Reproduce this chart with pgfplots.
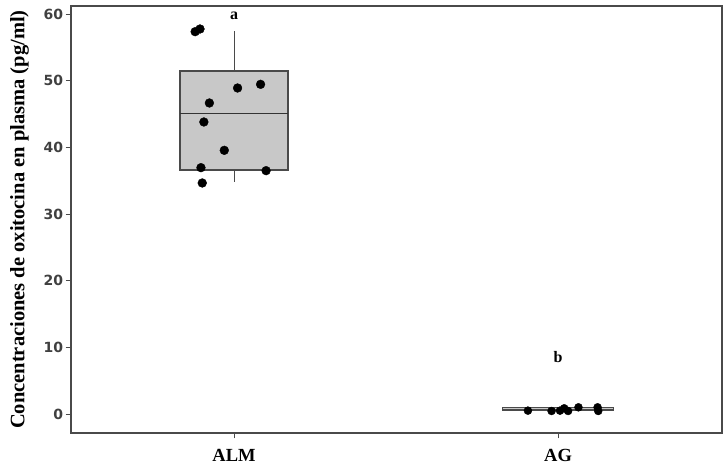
\documentclass[border=0pt]{standalone}
\usepackage{pgfplots}
\pgfplotsset{compat=1.18}
\usepackage{fontspec}
\setmainfont{Liberation Serif}
\newfontfamily\tickfont{DejaVu Sans}
\definecolor{framegray}{HTML}{4A4A4A}
\definecolor{boxfill}{HTML}{C8C8C8}
\definecolor{ticktext}{HTML}{404040}
\begin{document}
\begin{tikzpicture}
\useasboundingbox (-70.7pt,-38.7pt) rectangle (656.3pt,433.3pt);
\begin{axis}[
  at={(0,0)}, anchor=south west,
  scale only axis,
  width=651.3pt, height=427.3pt,
  xmin=0.496, xmax=2.506,
  ymin=-2.9, ymax=61.2,
  xtick={1,2}, xticklabels={ALM,AG},
  ytick={0,10,20,30,40,50,60},
  xtick pos=bottom, ytick pos=left,
  tick align=outside,
  major tick length=5pt,
  axis line style={framegray, line width=1.8pt},
  every tick/.style={framegray, line width=0.8pt},
  /pgf/number format/assume math mode=true,
  yticklabel style={font=\tickfont\bfseries\fontsize{14}{14}\selectfont, text=ticktext, xshift=1pt},
  xticklabel style={font=\bfseries\fontsize{18.5}{18.5}\selectfont, text=black, yshift=-7pt},
  ylabel={\bfseries\fontsize{20.5}{20.5}\selectfont Concentraciones de oxitocina en plasma (pg/ml)},
  ylabel style={anchor=south, yshift=8pt},
  clip=false,
]
% ALM box
\addplot[draw=framegray, fill=boxfill, line width=1.4pt] coordinates {
  (0.8335,36.6) (1.1665,36.6) (1.1665,51.45) (0.8335,51.45)} -- cycle;
\addplot[draw=black!80, line width=1.6pt] coordinates {(0.8335,45.1) (1.1665,45.1)};
\addplot[draw=framegray, line width=0.9pt] coordinates {(1,51.45) (1,57.5)};
\addplot[draw=framegray, line width=0.9pt] coordinates {(1,36.6) (1,34.75)};
% AG box
\addplot[draw=framegray, fill=boxfill, line width=0.9pt] coordinates {
  (1.8275,0.5) (2.1725,0.5) (2.1725,0.95) (1.8275,0.95)} -- cycle;
\addplot[draw=framegray, line width=0.7pt] coordinates {(1.8275,0.72) (2.1725,0.72)};
% points
\addplot[only marks, mark=*, mark size=4.4pt, black] coordinates {
  (0.880,57.35) (0.895,57.75) (1.011,48.9) (1.082,49.45) (0.924,46.65)
  (0.907,43.8) (0.970,39.55) (0.898,36.95) (1.099,36.5) (0.902,34.65)
};
\addplot[only marks, mark=*, mark size=4.0pt, black] coordinates {
  (1.907,0.5) (1.980,0.45) (2.006,0.5) (2.019,0.85) (2.031,0.45)
  (2.063,1.0) (2.122,1.0) (2.124,0.45)
};
\node[font=\bfseries\fontsize{16}{16}\selectfont] at (axis cs:1,59.8) {a};
\node[font=\bfseries\fontsize{16}{16}\selectfont] at (axis cs:2,8.6) {b};
\end{axis}
\end{tikzpicture}
\end{document}
